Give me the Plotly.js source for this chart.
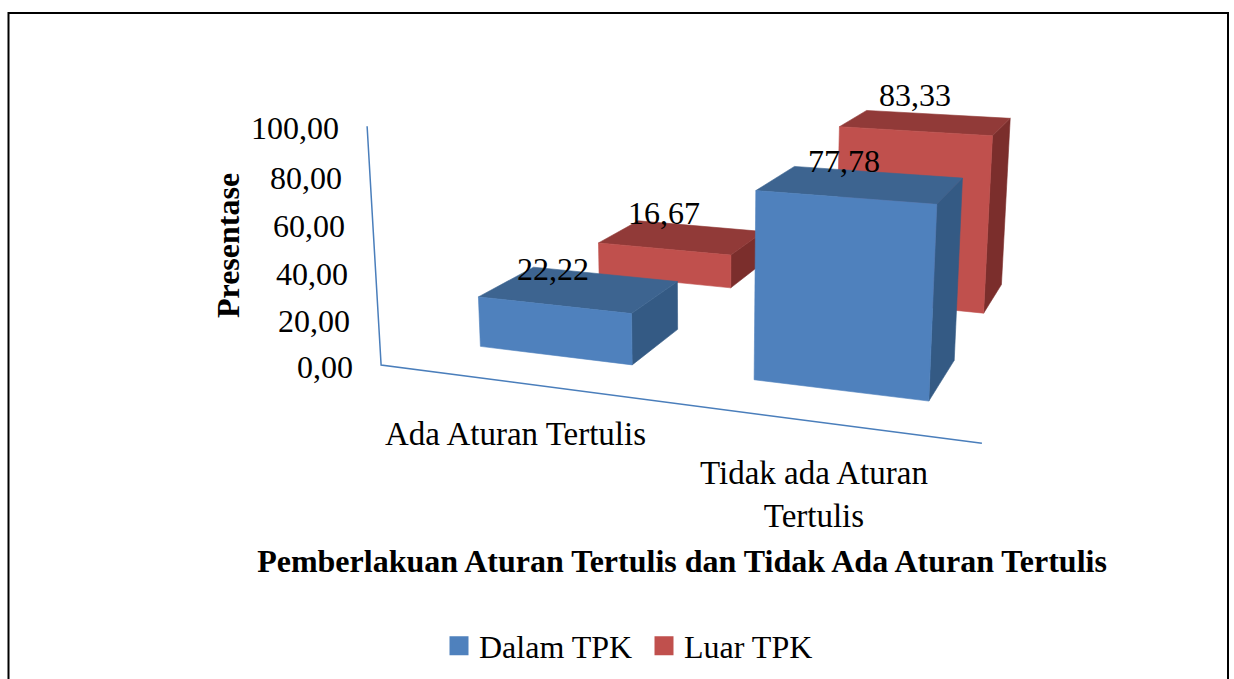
<!DOCTYPE html>
<html>
<head>
<meta charset="utf-8">
<script src="https://cdn.plot.ly/plotly-3.0.1.min.js"></script>
<style>
  html, body { margin: 0; padding: 0; background: #ffffff; }
  #chart { width: 1234px; height: 679px; }
</style>
</head>
<body>
<div id="chart"></div>
<script>
// ---------------- data ----------------
const categories = ['Ada Aturan Tertulis', 'Tidak ada Aturan Tertulis'];
const seriesNames = ['Dalam TPK', 'Luar TPK'];
const dalamTPK = [22.22, 77.78];
const luarTPK = [16.67, 83.33];
const yTicks = [0, 20, 40, 60, 80, 100];
const chartTitle = 'Pemberlakuan Aturan Tertulis dan Tidak Ada Aturan Tertulis';
const yTitle = 'Presentase';

// ---------------- styles ----------------
const FONT = 'Liberation Serif, Times New Roman, serif';
const FS = 32;
const seriesValues = [dalamTPK, luarTPK];
const faceColors = [
  { front: '#4F81BD', top: '#3D6490', side: '#345A84' },
  { front: '#C0504D', top: '#913A38', side: '#7B2E2C' }
];
const axisColor = '#4A7EBB';

// 3-D scene (Excel-like perspective) projected onto a pixel-aligned 2-D axis pair
const CAT = 124.25;        // width of one category / series slot (world units)
const BAR_W = 71;          // bar width along category axis
const BAR_D = 52;          // bar depth along series axis
const VMAX = 100;          // top of value axis
const CAM = { x0: 705, y0: 250, F: 1447, A: -134.3, U: -47.7, D: 600,
              yaw: 20.2 * Math.PI / 180, pitch: 14.4 * Math.PI / 180 };
const cp = Math.cos(CAM.yaw), sp = Math.sin(CAM.yaw);
const ca = Math.cos(CAM.pitch), sa = Math.sin(CAM.pitch);

function proj(X, Y, Z) {
  const a = CAM.A + X * cp + Z * sp;
  const b = -X * sp + Z * cp;
  const up = CAM.U + Y * ca + b * sa;
  const dep = CAM.D + b * ca - Y * sa;
  return [CAM.x0 + CAM.F * a / dep, CAM.y0 - CAM.F * up / dep];
}
function camDist(X, Y, Z) {
  const b = -X * sp + Z * cp;
  return CAM.D + b * ca - Y * sa;
}
function poly(pts) {
  const xs = [], ys = [];
  pts.forEach(p => { const q = proj(p[0], p[1], p[2]); xs.push(q[0]); ys.push(q[1]); });
  xs.push(xs[0]); ys.push(ys[0]);
  return { x: xs, y: ys };
}
function fmt(v) { return v.toFixed(2).replace('.', ','); }
function wrap(s, maxChars) {
  const words = s.split(' '); const lines = []; let cur = '';
  words.forEach(w => {
    if (cur && (cur + ' ' + w).length > maxChars) { lines.push(cur); cur = w; }
    else cur = cur ? cur + ' ' + w : w;
  });
  if (cur) lines.push(cur);
  return lines.join('<br>');
}

const traces = [];
const annotations = [];

// axis lines
{
  const p0 = proj(0, 0, 0), p1 = proj(0, VMAX, 0), p2 = proj(categories.length * CAT, 0, 0);
  traces.push({ type: 'scatter', mode: 'lines', x: [p1[0], p0[0], p2[0]], y: [p1[1], p0[1], p2[1]],
    line: { color: axisColor, width: 1.5 }, hoverinfo: 'skip', showlegend: false });
}

// bars, drawn far-to-near
const bars = [];
seriesValues.forEach((vals, s) => {
  vals.forEach((v, i) => {
    const xc = (i + 0.5) * CAT, zc = (s + 0.5) * CAT;
    bars.push({ s, i, v, xc, zc, dist: camDist(xc, v / 2, zc) });
  });
});
bars.sort((a, b) => b.dist - a.dist);
bars.forEach(bar => {
  const x0 = bar.xc - BAR_W / 2, x1 = bar.xc + BAR_W / 2;
  const z0 = bar.zc - BAR_D / 2, z1 = bar.zc + BAR_D / 2;
  const v = bar.v, c = faceColors[bar.s];
  const faces = [
    { pts: [[x1, 0, z0], [x1, 0, z1], [x1, v, z1], [x1, v, z0]], col: c.side },
    { pts: [[x0, v, z0], [x1, v, z0], [x1, v, z1], [x0, v, z1]], col: c.top },
    { pts: [[x0, 0, z0], [x1, 0, z0], [x1, v, z0], [x0, v, z0]], col: c.front }
  ];
  faces.forEach(f => {
    const p = poly(f.pts);
    traces.push({ type: 'scatter', mode: 'lines', x: p.x, y: p.y, fill: 'toself', fillcolor: f.col,
      line: { color: f.col, width: 0.6 }, hoverinfo: 'skip', showlegend: false });
  });
  const lp = proj(bar.xc, v, z0);
  annotations.push({ x: lp[0], y: lp[1], xref: 'x', yref: 'y', text: fmt(v), showarrow: false,
    xanchor: 'center', yanchor: 'middle', yshift: 36, font: { family: FONT, size: FS, color: '#000' } });
});

// legend proxies
seriesNames.forEach((n, s) => {
  traces.push({ type: 'scatter', mode: 'markers', x: [null], y: [null], name: n,
    marker: { symbol: 'square', size: 16, color: faceColors[s].front,
              line: { color: faceColors[s].front, width: 3 } }, hoverinfo: 'skip' });
});

// value tick labels along the front-left vertical axis
yTicks.forEach(t => {
  const p = proj(0, t, 0);
  annotations.push({ x: p[0], y: p[1], xref: 'x', yref: 'y', text: fmt(t), showarrow: false,
    xanchor: 'right', yanchor: 'middle', xshift: -26, yshift: -2,
    font: { family: FONT, size: FS, color: '#000' } });
});

// category labels
categories.forEach((c, i) => {
  const p = proj((i + 0.5) * CAT, 0, 0);
  annotations.push({ x: p[0], y: p[1], xref: 'x', yref: 'y', text: wrap(c, 20), showarrow: false,
    xanchor: 'center', yanchor: 'top', yshift: -32, align: 'center',
    font: { family: FONT, size: 33, color: '#000' } });
});

// value axis title
annotations.push({ x: 228 / 1234, y: 1 - 246 / 679, xref: 'paper', yref: 'paper', text: '<b>' + yTitle + '</b>',
  textangle: -90, showarrow: false, xanchor: 'center', yanchor: 'middle',
  font: { family: FONT, size: FS, color: '#000' } });

const layout = {
  width: 1234, height: 679,
  margin: { l: 0, r: 0, t: 0, b: 0, pad: 0 },
  paper_bgcolor: '#ffffff', plot_bgcolor: '#ffffff',
  xaxis: { range: [0, 1234], visible: false, fixedrange: true },
  yaxis: { range: [679, 0], visible: false, fixedrange: true },
  title: { text: '<b>' + chartTitle + '</b>', x: 682 / 1234, xanchor: 'center', xref: 'paper',
    y: 1 - 561 / 679, yanchor: 'middle', yref: 'paper',
    font: { family: FONT, size: FS, color: '#000' } },
  showlegend: true,
  legend: { orientation: 'h', x: 439 / 1234, xanchor: 'left', y: 1 - 646 / 679, yanchor: 'middle',
    entrywidth: 160, entrywidthmode: 'pixels',
    font: { family: FONT, size: FS, color: '#000' }, bgcolor: 'rgba(0,0,0,0)', itemclick: false },
  annotations: annotations,
  shapes: [{ type: 'rect', xref: 'paper', yref: 'paper', x0: 8.5 / 1234, x1: 1228 / 1234,
    y0: -0.2, y1: 1 - 13 / 679, line: { color: '#000', width: 2 }, fillcolor: 'rgba(0,0,0,0)' }]
};

Plotly.newPlot('chart', traces, layout, { displayModeBar: false, staticPlot: true });
</script>
</body>
</html>
